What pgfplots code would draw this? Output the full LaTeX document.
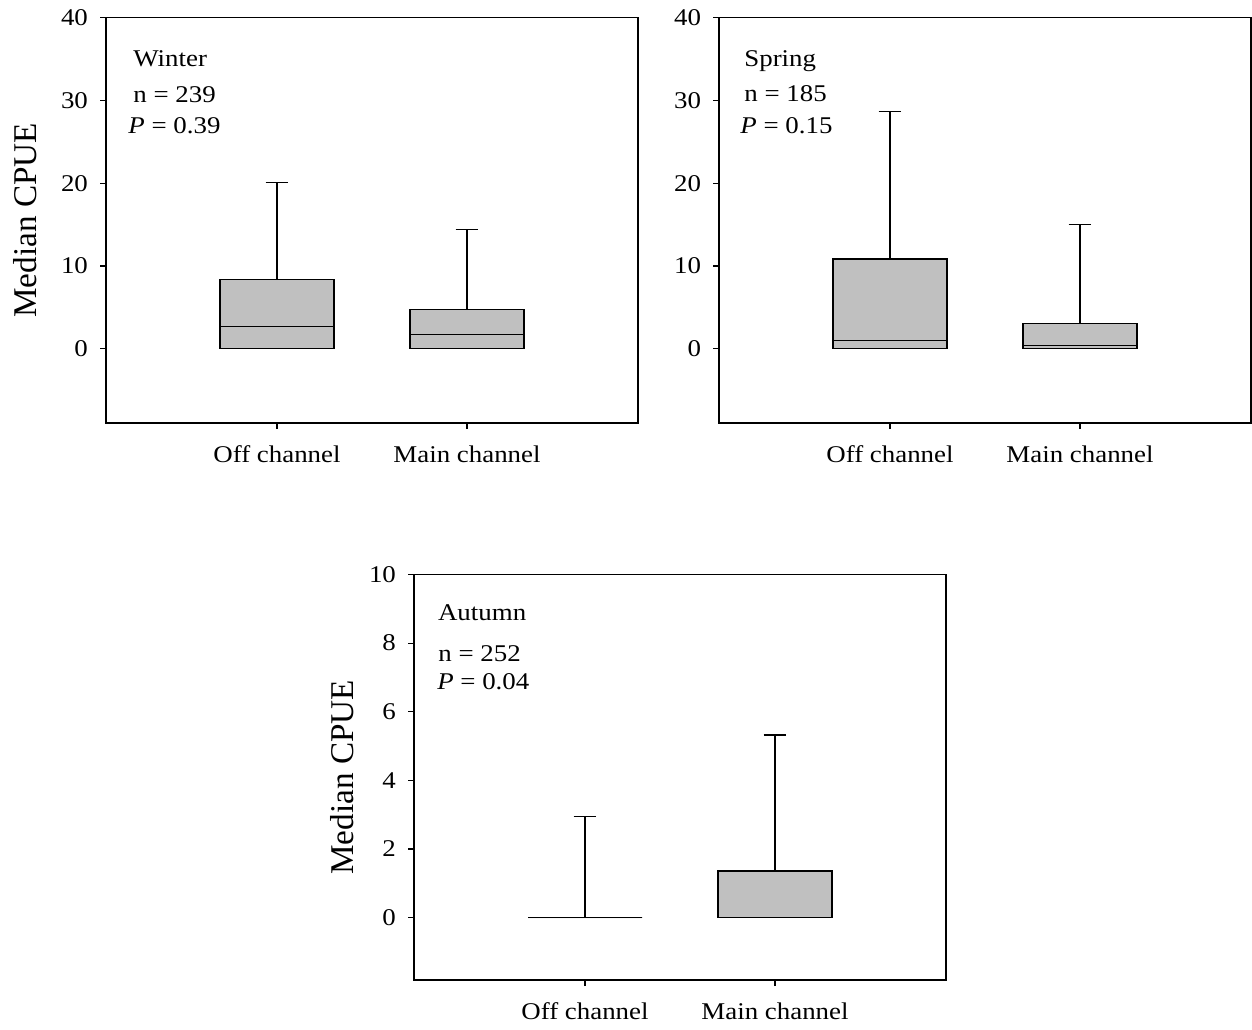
\documentclass[border=0pt]{standalone}
\usepackage{fontspec}
\setmainfont{Liberation Serif}[FakeStretch=1.12]
\newfontfamily\ylabfont{Liberation Serif}
\usepackage{pgfplots}
\pgfplotsset{compat=1.18}
\usepgfplotslibrary{statistics}
\definecolor{boxgray}{RGB}{192,192,192}
\tikzset{ann/.style={anchor=base west, font=\fontsize{12}{14}\selectfont, inner sep=0pt}}
\pgfplotsset{
  myaxis/.style={
    scale only axis, width=266pt, height=202.75pt,
    xmin=0.1, xmax=2.9,
    xtick={1,2}, xticklabels={Off channel, Main channel},
    tick align=outside, tick pos=left, major tick length=3pt,
    axis line style={line width=0.7pt},
    every tick/.style={black, line width=0.6pt},
    tick label style={font=\fontsize{12}{14}\selectfont},
    /pgf/number format/assume math mode=true,
    xticklabel style={yshift=-5pt},
    yticklabel style={xshift=-2.5pt},
    ylabel style={font=\ylabfont\fontsize{16.6}{19}\selectfont, anchor=center},
    boxplot/draw direction=y,
    boxplot/box extend=0.6,
    boxplot/whisker extend=0.12,
  },
  mybox/.style={fill=boxgray, draw=black, line width=0.6pt, solid},
}
\begin{document}
\begin{tikzpicture}
\path[use as bounding box] (0,0) rectangle (626pt,-514.5pt);

% Winter
\begin{axis}[myaxis, at={(53pt,-211.5pt)}, anchor=south west,
  ymin=-8.95, ymax=40, ytick={0,10,20,30,40},
  ylabel={Median CPUE}, ylabel style={at={(axis description cs:-0.152,0.5)}}]
\addplot[mybox, boxplot prepared={draw position=1, lower whisker=0, lower quartile=0, median=2.66, upper quartile=8.34, upper whisker=20.1}] coordinates {};
\addplot[mybox, boxplot prepared={draw position=2, lower whisker=0, lower quartile=0, median=1.77, upper quartile=4.75, upper whisker=14.4}] coordinates {};
\node[ann] at (rel axis cs:0.0508,0.878) {Winter};
\node[ann] at (rel axis cs:0.0508,0.790) {n = 239};
\node[ann] at (rel axis cs:0.0414,0.715) {\textit{P} = 0.39};
\end{axis}

% Spring
\begin{axis}[myaxis, at={(359.5pt,-211.5pt)}, anchor=south west,
  ymin=-8.95, ymax=40, ytick={0,10,20,30,40}]
\addplot[mybox, boxplot prepared={draw position=1, lower whisker=0, lower quartile=0, median=1.05, upper quartile=10.84, upper whisker=28.7}] coordinates {};
\addplot[mybox, boxplot prepared={draw position=2, lower whisker=0, lower quartile=0, median=0.4, upper quartile=3.02, upper whisker=14.98}] coordinates {};
\node[ann] at (rel axis cs:0.047,0.880) {Spring};
\node[ann] at (rel axis cs:0.047,0.792) {n = 185};
\node[ann] at (rel axis cs:0.0395,0.713) {\textit{P} = 0.15};
\end{axis}

% Autumn
\begin{axis}[myaxis, at={(207pt,-490pt)}, anchor=south west,
  ymin=-1.82, ymax=10, ytick={0,2,4,6,8,10},
  ylabel={Median CPUE}, ylabel style={at={(axis description cs:-0.135,0.5)}}]
\addplot[mybox, boxplot prepared={draw position=1, lower whisker=0, lower quartile=0, median=0, upper quartile=0, upper whisker=2.95}] coordinates {};
\addplot[mybox, boxplot prepared={draw position=2, lower whisker=0, lower quartile=0, median=0, upper quartile=1.36, upper whisker=5.32}] coordinates {};
\node[ann] at (rel axis cs:0.0445,0.887) {Autumn};
\node[ann] at (rel axis cs:0.045,0.786) {n = 252};
\node[ann] at (rel axis cs:0.043,0.717) {\textit{P} = 0.04};
\end{axis}
\end{tikzpicture}
\end{document}
